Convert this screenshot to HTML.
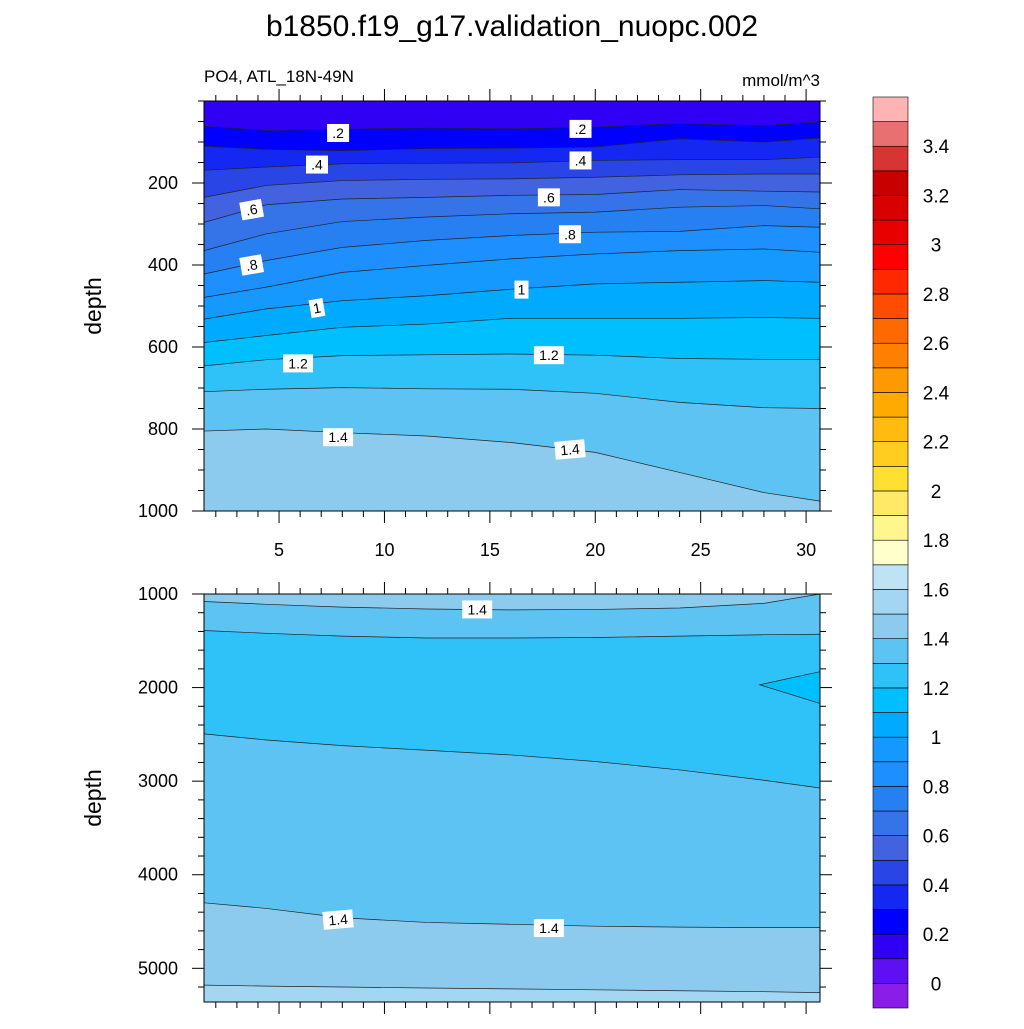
<!DOCTYPE html>
<html><head><meta charset="utf-8">
<style>
body{margin:0;background:#fff;width:1024px;height:1024px;overflow:hidden}
svg text{font-family:"Liberation Sans",sans-serif}
</style></head>
<body>
<svg id="chart" width="1024" height="1024" viewBox="0 0 1024 1024" xmlns="http://www.w3.org/2000/svg">
<text x="512" y="36" font-size="30" text-anchor="middle">b1850.f19_g17.validation_nuopc.002</text>
<text x="204" y="82" font-size="17">PO4, ATL_18N-49N</text>
<text x="820" y="86" font-size="17" text-anchor="end">mmol/m^3</text>
<text transform="translate(101,306) rotate(-90)" font-size="23" text-anchor="middle">depth</text>
<text transform="translate(101,798) rotate(-90)" font-size="23" text-anchor="middle">depth</text>
<g id="topPanel"></g><g id="botPanel"></g><g id="cbar"></g>
</svg>
<script>
// ---- data ----
const lats = [1.44, 4.4, 8, 12, 16, 20, 24, 28, 30.66];
const topLevels = [0.2,0.3,0.4,0.5,0.6,0.7,0.8,0.9,1.0,1.1,1.2,1.3,1.4];
const topDepths = [
 [62,72,69,66,68,64,55,61,51],
 [110,118,121,116,115,112,92,100,90],
 [169,161,153,152,151,145,143,143,137],
 [235,206,194,191,190,186,180,178,178],
 [296,253,239,235,230,228,216,220,222],
 [365,324,294,283,275,271,259,255,263],
 [422,389,357,340,328,320,318,304,308],
 [479,454,418,401,385,373,365,361,369],
 [532,507,487,475,459,446,442,438,442],
 [589,572,552,544,530,530,530,528,530],
 [646,631,621,619,617,620,628,630,630],
 [709,703,699,702,703,713,735,748,750],
 [805,800,809,817,833,857,906,955,976]
];
const topBackgroundBand = 0.1;
const botBackgroundBand = 1.4;
const botBands = [1.3, 1.2, 1.3, 1.4, 1.5];
const botDepths = [
 [1080,1110,1140,1160,1170,1165,1150,1100,1000],
 [1390,1420,1450,1470,1470,1465,1450,1435,1430],
 [2495,2560,2620,2670,2720,2790,2880,2990,3073],
 [4300,4360,4460,4510,4530,4550,4560,4565,4565],
 [5180,5190,5200,5210,5220,5230,5240,5250,5260]
];
const wedgeLats = [30.66, 27.8, 30.66];
const wedgeDepths = [1830, 1970, 2170];
const wedgeBand = 1.1;
const topLabelText = [".2",".2",".4",".4",".6",".6",".8",".8","1","1","1.2","1.2","1.4","1.4"];
const topLabelLat = [7.8,19.3,6.8,19.3,3.7,17.8,3.7,18.8,6.8,16.5,5.9,17.8,7.8,18.8];
const topLabelDepth = [78,68,155,145,265,235,400,325,505,460,640,620,820,850];
const topLabelRot = [0,0,0,0,-10,0,-10,0,-10,0,0,0,0,-5];
const botLabelText = ["1.4","1.4","1.4"];
const botLabelLat = [14.4,7.8,17.8];
const botLabelDepth = [1165,4480,4570];
const botLabelRot = [0,-5,0];
const xTicks = [5,10,15,20,25,30];
const topYTicks = [200,400,600,800,1000];
const botYTicks = [1000,2000,3000,4000,5000];
const cbarColors = ["#8a1ee8","#5e10f2","#3000f5","#0000ff","#1428f2","#2a45e6","#4262df","#3474e8","#2680f2","#1e8fff","#1599ff","#00aaff","#00bfff","#2ec2f8","#5cc3f2","#8ccbee","#a2d6f2","#bde3f5","#ffffcc","#fff78e","#ffe966","#ffe030","#ffcc20","#ffbb10","#ffaa00","#ff9900","#ff8000","#ff6a00","#ff4c00","#ff2800","#ff0000","#e80000","#d80000","#c80000","#d83434","#e87070","#ffb3b3"];
const cbarLabels = ["0","0.2","0.4","0.6","0.8","1","1.2","1.4","1.6","1.8","2","2.2","2.4","2.6","2.8","3","3.2","3.4"];
// ---- drawing ----
const NS="http://www.w3.org/2000/svg";
function mk(t,a,p){const e=document.createElementNS(NS,t);for(const k in a)e.setAttribute(k,a[k]);p.appendChild(e);return e;}
function bandColor(v){return cbarColors[Math.round(v*10)+1];}
const X0=204,X1=820,LAT0=1.44,LAT1=30.66;
const xs=l=>X0+(l-LAT0)/(LAT1-LAT0)*(X1-X0);
function panel(g,Y0,Y1,D0,D1,bg,bands,depths){
  const ys=d=>Y0+(d-D0)/(D1-D0)*(Y1-Y0);
  const cp='clip'+Y0;
  const defs=mk('defs',{},g);const c=mk('clipPath',{id:cp},defs);mk('rect',{x:X0,y:Y0,width:X1-X0,height:Y1-Y0},c);
  const bgr=mk('rect',{x:X0,y:Y0,width:X1-X0,height:Y1-Y0,fill:bandColor(bg)},g);
  
  
  const fg=mk('g',{'clip-path':'url(#'+cp+')'},g);
  bands.forEach((b,i)=>{
    const pts=lats.map((l,j)=>xs(l)+','+ys(depths[i][j]));
    const poly=mk('polygon',{points:pts.join(' ')+' '+X1+','+(Y1+5)+' '+X0+','+(Y1+5),fill:bandColor(b)},fg);
    
    
  });
  bands.forEach((b,i)=>{
    const pl=mk('polyline',{points:lats.map((l,j)=>xs(l)+','+ys(depths[i][j])).join(' '),fill:'none',stroke:'#222',"stroke-width":0.7},fg);
    
    
  });
  g._fg=fg;
  return ys;
}
function labels(g,ys,T,La,D,R){
  T.forEach((t,i)=>{
    const x=xs(La[i]),y=ys(D[i]);
    const lg=mk('g',{transform:`translate(${x},${y}) rotate(${R[i]})`},g);
    
    
    const w=t.length*8+6;
    mk('rect',{x:-w/2,y:-9,width:w,height:18,fill:'#fff'},lg);
    const tx=mk('text',{x:0,y:5,'font-size':14,'text-anchor':'middle'},lg);tx.textContent=t;
  });
}
function axes(g,Y0,Y1,D0,D1,ys,yTicks,minorStep,showX){
  mk('rect',{x:X0,y:Y0,width:X1-X0,height:Y1-Y0,fill:'none',stroke:'#000','stroke-width':1},g);
  const tg=mk('g',{stroke:'#000','stroke-width':1},g);
  for(let l=2;l<=30;l++){const x=xs(l),maj=l%5==0,L=maj?12:6;
    mk('line',{x1:x,y1:Y1,x2:x,y2:Y1+L},tg);mk('line',{x1:x,y1:Y0,x2:x,y2:Y0-L},tg);}
  if(showX) xTicks.forEach(v=>{const t=mk('text',{x:xs(v),y:Y1+45,'font-size':18,'text-anchor':'middle'},g);t.textContent=v;
    });
  for(let d=Math.ceil(D0/minorStep)*minorStep;d<=D1;d+=minorStep){const y=ys(d),maj=yTicks.includes(d),L=maj?12:6;
    mk('line',{x1:X0,y1:y,x2:X0-L,y2:y},tg);mk('line',{x1:X1,y1:y,x2:X1+L,y2:y},tg);}
  yTicks.forEach(v=>{const t=mk('text',{x:X0-26,y:ys(v)+6,'font-size':18,'text-anchor':'end'},g);t.textContent=v;
    });
}
const topG=document.getElementById('topPanel');


const ysT=panel(topG,101,511,0,1000,topBackgroundBand,topLevels,topDepths);
labels(topG,ysT,topLabelText,topLabelLat,topLabelDepth,topLabelRot);
axes(topG,101,511,0,1000,ysT,topYTicks,50,true);
const botG=document.getElementById('botPanel');


const ysB=panel(botG,594,1002,1000,5360,botBackgroundBand,botBands,botDepths);
const wp=mk('polygon',{points:wedgeLats.map((l,i)=>xs(l)+','+ysB(wedgeDepths[i])).join(' '),fill:bandColor(wedgeBand),stroke:'#222','stroke-width':0.7},botG._fg);


labels(botG,ysB,botLabelText,botLabelLat,botLabelDepth,botLabelRot);
axes(botG,594,1002,1000,5360,ysB,botYTicks,200,false);
// colorbar
const cb=document.getElementById('cbar');


const CB0=97,CB1=1008,n=cbarColors.length,bh=(CB1-CB0)/n;
cbarColors.forEach((c,i)=>{const r=mk('rect',{x:873,y:CB1-(i+1)*bh,width:35,height:bh,fill:c,stroke:'#000','stroke-width':0.6},cb);
  });
cbarLabels.forEach((t,i)=>{const y=CB1-(i*2+1)*bh;const tx=mk('text',{x:936,y:y+7,'font-size':19,'text-anchor':'middle'},cb);tx.textContent=t;
  });
</script>
</body></html>
